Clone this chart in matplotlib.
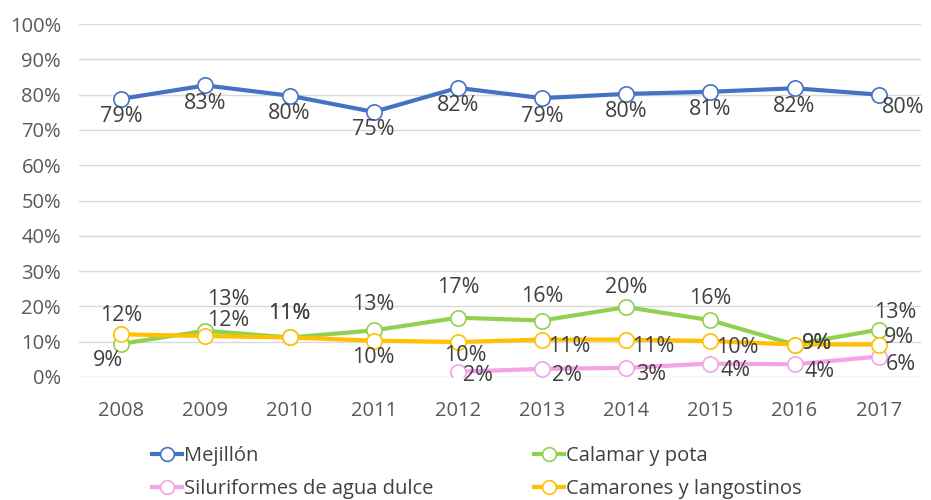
import matplotlib.pyplot as plt
from matplotlib.ticker import FuncFormatter

plt.rcParams['font.family'] = ['Open Sans', 'DejaVu Sans']

years = [2008, 2009, 2010, 2011, 2012, 2013, 2014, 2015, 2016, 2017]
mejillon = [78.8, 82.6, 79.7, 75.1, 81.9, 79.0, 80.2, 80.8, 81.8, 80.0]
calamar = [9.4, 13.1, 11.2, 13.2, 16.8, 16.0, 19.8, 16.1, 9.2, 13.4]
silur_years = [2012, 2013, 2014, 2015, 2016, 2017]
siluriformes = [1.5, 2.3, 2.6, 3.8, 3.6, 5.8]
camarones = [12.1, 11.6, 11.2, 10.3, 9.9, 10.6, 10.6, 10.2, 9.2, 9.2]

# label offsets in pixels (dx, dy) per point
off_mej = [(0, -18)] * 9 + [(25, -13)]
off_cal = [(-13, -17), (23, 31), (0, 24), (0, 26), (0, 30), (0, 24), (0, 20), (0, 22), (22, 1), (17, 17)]
off_sil = [(20, -4), (25, -7), (25, -7), (25, -7), (25, -7), (22, -8)]
off_cam = [(0, 19), (23, 16), (0, 24), (0, -17), (7, -13), (27, -7), (27, -7), (27, -7), (22, 1), (20, 7)]

c_mej = '#4472C4'
c_cal = '#92D050'
c_sil = '#F4A3E6'
c_cam = '#FFC000'

fig, ax = plt.subplots(figsize=(9.31, 5), dpi=100)
fig.subplots_adjust(left=0.085, right=0.989, top=0.952, bottom=0.246)

xi = list(range(len(years)))
xs = [years.index(y) for y in silur_years]

series = [
    ('Mejillón', xi, mejillon, c_mej, off_mej),
    ('Calamar y pota', xi, calamar, c_cal, off_cal),
    ('Siluriformes de agua dulce', xs, siluriformes, c_sil, off_sil),
    ('Camarones y langostinos', xi, camarones, c_cam, off_cam),
]
handles = {}
for name, x, y, c, offs in series:
    h, = ax.plot(x, y, color=c, lw=3, marker='o', markersize=11,
                 markerfacecolor='white', markeredgecolor=c, markeredgewidth=1.2,
                 label=name, zorder=3)
    handles[name] = h
    for xx, yy, (dx, dy) in zip(x, y, offs):
        ax.annotate(f'{round(yy):.0f}%', (xx, yy), xytext=(dx, dy), textcoords='offset pixels',
                    ha='center', va='center', fontsize=15.5, color='#404040', zorder=4)

ax.set_xlim(-0.5, len(years) - 0.5)
ax.set_ylim(0, 100)
ax.set_yticks(range(0, 101, 10))
ax.yaxis.set_major_formatter(FuncFormatter(lambda v, p: f'{v:.0f}%'))
ax.set_xticks(xi)
ax.set_xticklabels([str(y) for y in years])
ax.tick_params(axis='both', length=0, labelsize=14.5, colors='#595959')
ax.tick_params(axis='x', pad=17)
ax.tick_params(axis='y', pad=13)
ax.grid(axis='y', color='#D9D9D9', lw=1)
ax.set_axisbelow(True)
for s in ax.spines.values():
    s.set_visible(False)

order = ['Mejillón', 'Siluriformes de agua dulce', 'Calamar y pota', 'Camarones y langostinos']
leg = fig.legend([handles[n] for n in order], order, loc='lower left', bbox_to_anchor=(0.152, -0.018),
                 ncol=2, frameon=False, fontsize=14.5, handlelength=1.5, handletextpad=0.1,
                 columnspacing=5.0, labelcolor='#404040', labelspacing=0.65, borderpad=0,
                 markerscale=0.9)

fig.savefig('out.png', dpi=100)
